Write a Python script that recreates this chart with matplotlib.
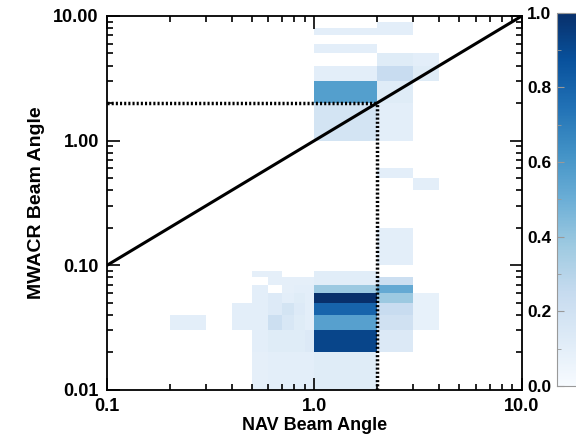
import numpy as np
import matplotlib.pyplot as plt
from matplotlib.ticker import FixedLocator, FixedFormatter, NullFormatter, MultipleLocator

plt.rcParams['font.family'] = ['Liberation Sans', 'DejaVu Sans']
plt.rcParams['font.weight'] = 'bold'

# bin edges: 0.1 steps below 1, unit steps above 1 (and 0.01 steps below 0.1 for y)
x_edges = np.concatenate([np.arange(1, 10) * 0.1, np.arange(1, 11) * 1.0])
y_edges = np.concatenate([np.arange(1, 10) * 0.01, np.arange(1, 10) * 0.1,
                          np.arange(1, 11) * 1.0])

# occupied cells: lower edge in x, lower edge in y, normalised frequency
cell_x0 = [
    # upper cluster
    2, 1, 2, 1, 2, 3, 1, 2, 3, 1, 2, 1, 2,
    # middle
    2, 3, 2,
    # row 0.08-0.09
    0.5, 0.6, 1,
    # row 0.07-0.08
    0.6, 0.7, 0.8, 0.9, 1, 2,
    # row 0.06-0.07
    0.5, 0.7, 0.8, 0.9, 1, 2,
    # row 0.05-0.06
    0.5, 0.6, 0.7, 0.8, 0.9, 1, 2, 3,
    # row 0.04-0.05
    0.4, 0.5, 0.6, 0.7, 0.8, 0.9, 1, 2, 3,
    # row 0.03-0.04
    0.2, 0.4, 0.5, 0.6, 0.7, 0.8, 0.9, 1, 2, 3,
    # row 0.02-0.03
    0.5, 0.6, 0.7, 0.8, 0.9, 1, 2,
    # row 0.01-0.02
    0.5, 0.6, 0.7, 0.8, 0.9, 1,
]
cell_y0 = [
    8, 7, 7, 5, 4, 4, 3, 3, 3, 2, 2, 1, 1,
    0.5, 0.4, 0.1,
    0.08, 0.08, 0.08,
    0.07, 0.07, 0.07, 0.07, 0.07, 0.07,
    0.06, 0.06, 0.06, 0.06, 0.06, 0.06,
    0.05, 0.05, 0.05, 0.05, 0.05, 0.05, 0.05, 0.05,
    0.04, 0.04, 0.04, 0.04, 0.04, 0.04, 0.04, 0.04, 0.04,
    0.03, 0.03, 0.03, 0.03, 0.03, 0.03, 0.03, 0.03, 0.03, 0.03,
    0.02, 0.02, 0.02, 0.02, 0.02, 0.02, 0.02,
    0.01, 0.01, 0.01, 0.01, 0.01, 0.01,
]
cell_frac = [
    0.10, 0.10, 0.10, 0.10, 0.12, 0.10, 0.10, 0.24, 0.12, 0.57, 0.12, 0.18, 0.10,
    0.10, 0.10, 0.10,
    0.09, 0.09, 0.11,
    0.09, 0.09, 0.09, 0.09, 0.11, 0.22,
    0.10, 0.09, 0.10, 0.10, 0.38, 0.52,
    0.10, 0.13, 0.10, 0.12, 0.10, 1.00, 0.38, 0.08,
    0.10, 0.10, 0.13, 0.18, 0.13, 0.10, 0.80, 0.24, 0.08,
    0.10, 0.10, 0.10, 0.22, 0.16, 0.12, 0.10, 0.56, 0.20, 0.08,
    0.10, 0.12, 0.12, 0.12, 0.14, 0.92, 0.14,
    0.09, 0.10, 0.10, 0.10, 0.10, 0.12,
]

# fill the 2-D histogram grid from the cell lists
grid = np.zeros((len(y_edges) - 1, len(x_edges) - 1))
for x0, y0, f in zip(cell_x0, cell_y0, cell_frac):
    i = np.argmin(np.abs(np.log10(y_edges[:-1]) - np.log10(y0)))
    j = np.argmin(np.abs(np.log10(x_edges[:-1]) - np.log10(x0)))
    grid[i, j] = f
grid = np.ma.masked_equal(grid, 0)

fig = plt.figure(figsize=(5.76, 4.43), dpi=100)
ax = fig.add_axes([0.186, 0.120, 0.720, 0.844])

mesh = ax.pcolormesh(x_edges, y_edges, grid, cmap='Blues', vmin=0, vmax=1)

# one-to-one line and the 2-degree reference lines
ax.plot([0.1, 10], [0.1, 10], color='black', lw=2.2)
ax.plot([0.1, 2], [2, 2], color='black', lw=2.5, linestyle=(0, (0.6, 0.6)))
ax.plot([2, 2], [0.01, 2], color='black', lw=2.5, linestyle=(0, (0.6, 0.6)))

ax.set_xscale('log')
ax.set_yscale('log')
ax.set_xlim(0.1, 10)
ax.set_ylim(0.01, 10)

ax.xaxis.set_major_locator(FixedLocator([0.1, 1, 10]))
ax.xaxis.set_major_formatter(FixedFormatter(['0.1', '1.0', '10.0']))
ax.xaxis.set_minor_formatter(NullFormatter())
ax.yaxis.set_major_locator(FixedLocator([0.01, 0.1, 1, 10]))
ax.yaxis.set_major_formatter(FixedFormatter(['0.01', '0.10', '1.00', '10.00']))
ax.yaxis.set_minor_formatter(NullFormatter())

ax.tick_params(which='both', direction='in', top=True, right=True,
               labelsize=13, width=1.2)
ax.tick_params(which='major', length=9, pad=6)
ax.tick_params(which='minor', length=4.5)
for s in ax.spines.values():
    s.set_linewidth(1.3)

ax.set_xlabel('NAV Beam Angle', fontsize=13, fontweight='bold', labelpad=1)
ax.set_ylabel('MWACR Beam Angle', fontsize=14, fontweight='bold', labelpad=6)

# colour bar at the right edge, labels on its left side
cax = fig.add_axes([0.967, 0.129, 0.06, 0.842])
cb = fig.colorbar(mesh, cax=cax)
cb.outline.set_edgecolor('#999999')
cb.outline.set_linewidth(0.8)
cax.yaxis.set_ticks_position('left')
cax.yaxis.set_label_position('left')
cax.yaxis.set_major_locator(FixedLocator([0, 0.2, 0.4, 0.6, 0.8, 1.0]))
cax.yaxis.set_major_formatter(FixedFormatter(['0.0', '0.2', '0.4', '0.6', '0.8', '1.0']))
cax.yaxis.set_minor_locator(MultipleLocator(0.1))
cax.tick_params(which='both', direction='in', labelsize=12.5, color='#999999', pad=4)
cax.tick_params(which='major', length=5)
cax.tick_params(which='minor', length=3)

fig.savefig('out.png', dpi=100)
